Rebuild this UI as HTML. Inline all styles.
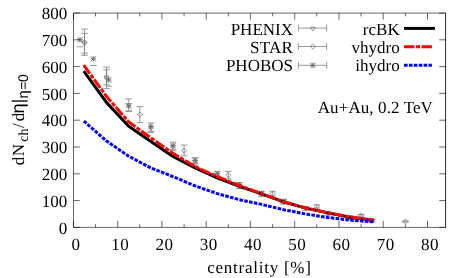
<!DOCTYPE html>
<html><head><meta charset="utf-8"><style>
html,body{margin:0;padding:0;background:#fff;}
svg{display:block;}
text{text-rendering:geometricPrecision;font-family:"Liberation Serif",serif;font-size:17px;fill:#000;}
.s{font-family:"Liberation Sans",sans-serif;}
</style></head><body>
<svg width="463" height="278" viewBox="0 0 463 278">
<rect width="463" height="278" fill="#fff"/>
<g fill="none" stroke="#7f7f7f" stroke-width="0.8">
<path d="M84.5,33.4 V53.2 M81.2,33.4 H87.8 M81.2,53.2 H87.8"/>
<path d="M81.9,42.0 h5.2 l-2.6,3.9 z"/>
<path d="M106.6,69.8 V84.8 M103.3,69.8 H109.9 M103.3,84.8 H109.9"/>
<path d="M104.0,76.0 h5.2 l-2.6,3.9 z"/>
<path d="M128.7,99.0 V110.8 M125.4,99.0 H132.0 M125.4,110.8 H132.0"/>
<path d="M126.1,103.6 h5.2 l-2.6,3.9 z"/>
<path d="M150.9,122.9 V132.5 M147.6,122.9 H154.2 M147.6,132.5 H154.2"/>
<path d="M148.3,126.4 h5.2 l-2.6,3.9 z"/>
<path d="M173.0,142.2 V150.8 M169.7,142.2 H176.3 M169.7,150.8 H176.3"/>
<path d="M170.4,145.2 h5.2 l-2.6,3.9 z"/>
<path d="M195.1,157.7 V165.2 M191.8,157.7 H198.4 M191.8,165.2 H198.4"/>
<path d="M192.5,160.2 h5.2 l-2.6,3.9 z"/>
<path d="M217.2,171.4 V177.8 M213.9,171.4 H220.5 M213.9,177.8 H220.5"/>
<path d="M214.6,173.3 h5.2 l-2.6,3.9 z"/>
<path d="M239.4,182.6 V188.5 M236.1,182.6 H242.7 M236.1,188.5 H242.7"/>
<path d="M236.8,184.3 h5.2 l-2.6,3.9 z"/>
<path d="M261.5,191.6 V196.7 M258.2,191.6 H264.8 M258.2,196.7 H264.8"/>
<path d="M258.9,192.9 h5.2 l-2.6,3.9 z"/>
<path d="M283.6,199.6 V204.2 M280.3,199.6 H286.9 M280.3,204.2 H286.9"/>
<path d="M281.0,200.6 h5.2 l-2.6,3.9 z"/>
<path d="M305.8,206.4 V210.4 M302.5,206.4 H309.1 M302.5,210.4 H309.1"/>
<path d="M303.2,207.1 h5.2 l-2.6,3.9 z"/>
<path d="M327.9,211.7 V215.2 M324.6,211.7 H331.2 M324.6,215.2 H331.2"/>
<path d="M325.3,212.1 h5.2 l-2.6,3.9 z"/>
<path d="M350.0,215.9 V218.8 M346.7,215.9 H353.3 M346.7,218.8 H353.3"/>
<path d="M347.4,216.0 h5.2 l-2.6,3.9 z"/>
<path d="M372.2,219.3 V221.7 M368.9,219.3 H375.5 M368.9,221.7 H375.5"/>
<path d="M369.6,219.2 h5.2 l-2.6,3.9 z"/>
<path d="M84.5,29.1 V55.3 M81.2,29.1 H87.8 M81.2,55.3 H87.8"/>
<path d="M81.9,42.2 l2.6,-2.6 l2.6,2.6 l-2.6,2.6 z"/>
<path d="M106.6,67.1 V88.6 M103.3,67.1 H109.9 M103.3,88.6 H109.9"/>
<path d="M104.0,77.9 l2.6,-2.6 l2.6,2.6 l-2.6,2.6 z"/>
<path d="M139.8,106.5 V122.6 M136.5,106.5 H143.1 M136.5,122.6 H143.1"/>
<path d="M137.2,114.6 l2.6,-2.6 l2.6,2.6 l-2.6,2.6 z"/>
<path d="M184.1,145.1 V155.8 M180.8,145.1 H187.4 M180.8,155.8 H187.4"/>
<path d="M181.5,150.5 l2.6,-2.6 l2.6,2.6 l-2.6,2.6 z"/>
<path d="M228.3,171.4 V178.9 M225.0,171.4 H231.6 M225.0,178.9 H231.6"/>
<path d="M225.7,175.1 l2.6,-2.6 l2.6,2.6 l-2.6,2.6 z"/>
<path d="M272.6,191.2 V196.0 M269.3,191.2 H275.9 M269.3,196.0 H275.9"/>
<path d="M270.0,193.6 l2.6,-2.6 l2.6,2.6 l-2.6,2.6 z"/>
<path d="M316.8,204.9 V208.1 M313.5,204.9 H320.1 M313.5,208.1 H320.1"/>
<path d="M314.2,206.5 l2.6,-2.6 l2.6,2.6 l-2.6,2.6 z"/>
<path d="M361.1,214.5 V216.1 M357.8,214.5 H364.4 M357.8,216.1 H364.4"/>
<path d="M358.5,215.3 l2.6,-2.6 l2.6,2.6 l-2.6,2.6 z"/>
<path d="M405.4,221.0 V222.0 M402.1,221.0 H408.7 M402.1,222.0 H408.7"/>
<path d="M402.8,221.5 l2.6,-2.6 l2.6,2.6 l-2.6,2.6 z"/>
<path d="M76.7,46.8 H83.3"/>
<path stroke-width="1" stroke="#707070" d="M77.4,39.8 h5.2 M80.0,37.2 v5.2 M77.4,37.2 l5.2,5.2 M77.4,42.4 l5.2,-5.2"/>
<path d="M90.0,65.5 H96.6"/>
<path stroke-width="1" stroke="#707070" d="M90.7,58.8 h5.2 M93.3,56.2 v5.2 M90.7,56.2 l5.2,5.2 M90.7,61.4 l5.2,-5.2"/>
<path d="M105.5,86.2 H112.1"/>
<path stroke-width="1" stroke="#707070" d="M106.2,80.0 h5.2 M108.8,77.4 v5.2 M106.2,77.4 l5.2,5.2 M106.2,82.6 l5.2,-5.2"/>
<path d="M125.4,111.4 H132.0"/>
<path stroke-width="1" stroke="#707070" d="M126.1,106.0 h5.2 M128.7,103.4 v5.2 M126.1,103.4 l5.2,5.2 M126.1,108.6 l5.2,-5.2"/>
<path d="M147.6,131.2 H154.2"/>
<path stroke-width="1" stroke="#707070" d="M148.3,126.6 h5.2 M150.9,124.0 v5.2 M148.3,124.0 l5.2,5.2 M148.3,129.2 l5.2,-5.2"/>
<path d="M169.7,149.4 H176.3"/>
<path stroke-width="1" stroke="#707070" d="M170.4,145.7 h5.2 M173.0,143.1 v5.2 M170.4,143.1 l5.2,5.2 M170.4,148.3 l5.2,-5.2"/>
<path d="M191.8,163.6 H198.4"/>
<path stroke-width="1" stroke="#707070" d="M192.5,160.4 h5.2 M195.1,157.8 v5.2 M192.5,157.8 l5.2,5.2 M192.5,163.0 l5.2,-5.2"/>
<path d="M213.9,176.2 H220.5"/>
<path stroke-width="1" stroke="#707070" d="M214.6,173.5 h5.2 M217.2,170.9 v5.2 M214.6,170.9 l5.2,5.2 M214.6,176.1 l5.2,-5.2"/>
<path d="M236.1,186.7 H242.7"/>
<path stroke-width="1" stroke="#707070" d="M236.8,184.5 h5.2 M239.4,181.9 v5.2 M236.8,181.9 l5.2,5.2 M236.8,187.1 l5.2,-5.2"/>
<path d="M258.2,194.7 H264.8"/>
<path stroke-width="1" stroke="#707070" d="M258.9,193.1 h5.2 M261.5,190.5 v5.2 M258.9,190.5 l5.2,5.2 M258.9,195.7 l5.2,-5.2"/>
<path d="M280.3,202.5 H286.9"/>
<path stroke-width="1" stroke="#707070" d="M281.0,201.1 h5.2 M283.6,198.5 v5.2 M281.0,198.5 l5.2,5.2 M281.0,203.7 l5.2,-5.2"/>
<path d="M298.4,28.1 H326.7 M298.4,24.7 v6.8 M326.7,24.7 v6.8"/><path d="M310.2,27.2 h5.2 l-2.6,3.9 z"/>
<path d="M298.4,46.5 H326.7 M298.4,43.1 v6.8 M326.7,43.1 v6.8"/><path d="M310.2,46.5 l2.6,-2.6 l2.6,2.6 l-2.6,2.6 z"/>
<path d="M298.4,65.3 H326.7 M298.4,61.9 v6.8 M326.7,61.9 v6.8"/><path stroke-width="1" stroke="#707070" d="M310.2,65.3 h5.2 M312.8,62.7 v5.2 M310.2,62.7 l5.2,5.2 M310.2,67.9 l5.2,-5.2"/>
</g>
<g fill="none" stroke-linejoin="round">
<path d="M83.8,71.2 L84.5,72.1 L106.6,102.6 L128.7,126.2 L150.9,141.4 L173.0,156.4 L195.1,167.9 L217.2,177.8 L239.4,186.3 L261.5,193.9 L283.6,201.9 L305.8,208.1 L327.9,212.9 L350.0,217.2 L372.2,220.2 L373.9,220.4" stroke="#000" stroke-width="3"/>
<path d="M83.8,65.1 L84.5,66.1 L106.6,96.6 L128.7,121.9 L150.9,137.9 L173.0,153.4 L195.1,166.6 L217.2,176.6 L239.4,185.6 L261.5,193.6 L283.6,201.8 L305.8,208.0 L327.9,212.7 L350.0,217.0 L372.2,220.1 L373.9,220.3" stroke="#ff0000" stroke-width="3" stroke-dasharray="10.4 1.5 4.2 1.5"/>
<path d="M83.8,121.1 L84.5,121.7 L106.6,141.1 L128.7,156.2 L150.9,168.0 L173.0,176.6 L195.1,185.9 L217.2,193.6 L239.4,199.7 L261.5,204.4 L283.6,209.7 L305.8,214.0 L327.9,217.5 L350.0,220.1 L372.2,221.8 L373.9,221.9" stroke="#0000ff" stroke-width="3" stroke-dasharray="3.6 1.3"/>
<path d="M404,28.4 H435" stroke="#000" stroke-width="3"/>
<path d="M404,46.7 H431.9" stroke="#ff0000" stroke-width="3" stroke-dasharray="10.4 1.5 4.2 1.5"/>
<path d="M404,65.3 H431.9" stroke="#0000ff" stroke-width="3" stroke-dasharray="3.6 1.3"/>
</g>
<g fill="none" stroke="#000" stroke-width="0.6">
<path d="M73.5,13.1 H445.6 V227.4 H73.5 Z"/>
<path d="M445.5,13 V227.5" stroke-width="0.5"/>
<path d="M73.4,227.4 v-6.6 M73.4,13.1 v6.6 M95.5,227.4 v-3.2 M95.5,13.1 v3.2 M117.7,227.4 v-6.6 M117.7,13.1 v6.6 M139.8,227.4 v-3.2 M139.8,13.1 v3.2 M161.9,227.4 v-6.6 M161.9,13.1 v6.6 M184.1,227.4 v-3.2 M184.1,13.1 v3.2 M206.2,227.4 v-6.6 M206.2,13.1 v6.6 M228.3,227.4 v-3.2 M228.3,13.1 v3.2 M250.4,227.4 v-6.6 M250.4,13.1 v6.6 M272.6,227.4 v-3.2 M272.6,13.1 v3.2 M294.7,227.4 v-6.6 M294.7,13.1 v6.6 M316.8,227.4 v-3.2 M316.8,13.1 v3.2 M339.0,227.4 v-6.6 M339.0,13.1 v6.6 M361.1,227.4 v-3.2 M361.1,13.1 v3.2 M383.2,227.4 v-6.6 M383.2,13.1 v6.6 M405.4,227.4 v-3.2 M405.4,13.1 v3.2 M427.5,227.4 v-6.6 M427.5,13.1 v6.6 M73.5,227.4 h6.4 M445.6,227.4 h-6.4 M73.5,200.6 h6.4 M445.6,200.6 h-6.4 M73.5,173.8 h6.4 M445.6,173.8 h-6.4 M73.5,147.0 h6.4 M445.6,147.0 h-6.4 M73.5,120.2 h6.4 M445.6,120.2 h-6.4 M73.5,93.4 h6.4 M445.6,93.4 h-6.4 M73.5,66.6 h6.4 M445.6,66.6 h-6.4 M73.5,39.8 h6.4 M445.6,39.8 h-6.4 M73.5,13.0 h6.4 M445.6,13.0 h-6.4"/>
</g>
<g style="filter:grayscale(1)">
<text x="75.9" y="249.8" text-anchor="middle" font-size="17.5" letter-spacing="0.4">0</text>
<text x="120.2" y="249.8" text-anchor="middle" font-size="17.5" letter-spacing="0.4">10</text>
<text x="164.4" y="249.8" text-anchor="middle" font-size="17.5" letter-spacing="0.4">20</text>
<text x="208.7" y="249.8" text-anchor="middle" font-size="17.5" letter-spacing="0.4">30</text>
<text x="252.9" y="249.8" text-anchor="middle" font-size="17.5" letter-spacing="0.4">40</text>
<text x="297.2" y="249.8" text-anchor="middle" font-size="17.5" letter-spacing="0.4">50</text>
<text x="341.5" y="249.8" text-anchor="middle" font-size="17.5" letter-spacing="0.4">60</text>
<text x="385.7" y="249.8" text-anchor="middle" font-size="17.5" letter-spacing="0.4">70</text>
<text x="430.0" y="249.8" text-anchor="middle" font-size="17.5" letter-spacing="0.4">80</text>
<text x="67.3" y="233.5" text-anchor="end">0</text>
<text x="67.3" y="206.7" text-anchor="end">100</text>
<text x="67.3" y="179.9" text-anchor="end">200</text>
<text x="67.3" y="153.1" text-anchor="end">300</text>
<text x="67.3" y="126.3" text-anchor="end">400</text>
<text x="67.3" y="99.5" text-anchor="end">500</text>
<text x="67.3" y="72.7" text-anchor="end">600</text>
<text x="67.3" y="45.9" text-anchor="end">700</text>
<text x="67.3" y="19.1" text-anchor="end">800</text>
<text x="293.0" y="34.7" text-anchor="end">PHENIX</text>
<text x="293.2" y="53" text-anchor="end" letter-spacing="0.3">STAR</text>
<text x="293.0" y="71.2" text-anchor="end">PHOBOS</text>
<text x="399.7" y="34.7" text-anchor="end">rcBK</text>
<text x="399.7" y="53" text-anchor="end">vhydro</text>
<text x="399.7" y="71.2" text-anchor="end">ihydro</text>
<text x="317.7" y="113.2" textLength="115.2" lengthAdjust="spacing">Au+Au, 0.2 TeV</text>
<text x="207.3" y="273.2" textLength="103.6" lengthAdjust="spacing">centrality [%]</text>
<text transform="translate(23.8,165.3) rotate(-90)"><tspan x="0">d</tspan><tspan x="9">N</tspan><tspan x="23.6" dy="3.8" font-size="14">ch</tspan><tspan x="37.4" dy="-3.8">/</tspan><tspan x="44">d</tspan><tspan class="s" x="51.8" font-size="18.2">η</tspan><tspan class="s" x="62">|</tspan><tspan class="s" x="66.8" dy="3.8" font-size="14.6">η</tspan><tspan class="s" x="75.6" font-size="14">=</tspan><tspan class="s" x="83.3" font-size="14">0</tspan></text>
</g>
</svg>
</body></html>
